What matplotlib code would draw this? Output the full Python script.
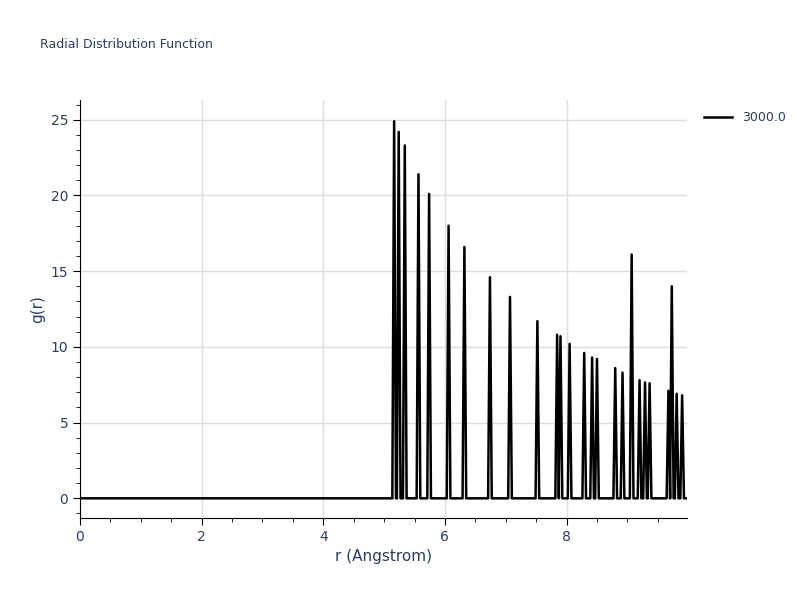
import matplotlib
matplotlib.use("Agg")
import matplotlib.pyplot as plt
from matplotlib.ticker import MultipleLocator

peak_r = [5.165, 5.24, 5.34, 5.565, 5.74, 6.06, 6.32, 6.74, 7.07, 7.52, 7.845, 7.90, 8.05,
          8.29, 8.42, 8.50, 8.80, 8.92, 9.07, 9.20, 9.29, 9.365, 9.675, 9.73, 9.81, 9.90]
peak_g = [24.9, 24.2, 23.3, 21.4, 20.1, 18.0, 16.6, 14.6, 13.3, 11.7, 10.8, 10.7, 10.2,
          9.6, 9.3, 9.2, 8.6, 8.3, 16.1, 7.8, 7.65, 7.6, 7.1, 14.0, 6.9, 6.8]
r_start, r_end = 0.0, 9.98
half_width = 0.03

r = [r_start]
g = [0.0]
for pr, pg in zip(peak_r, peak_g):
    r += [pr - half_width, pr, pr + half_width]
    g += [0.0, pg, 0.0]
r.append(r_end)
g.append(0.0)

fig = plt.figure(figsize=(8, 6), dpi=100)
ax = fig.add_axes([80/800, 1-518/600, 607/800, 418/600])
ax.plot(r, g, color="black", lw=1.8, label="3000.0")
ax.set_xlim(0, 9.98)
ax.set_ylim(-1.3, 26.3)
ax.xaxis.set_major_locator(MultipleLocator(2))
ax.xaxis.set_minor_locator(MultipleLocator(0.5))
ax.yaxis.set_major_locator(MultipleLocator(5))
ax.yaxis.set_minor_locator(MultipleLocator(1))
ax.grid(True, which="major", color="#dddddd", lw=1)
ax.set_axisbelow(True)
for s in ["top", "right"]:
    ax.spines[s].set_visible(False)
for s in ["left", "bottom"]:
    ax.spines[s].set_color("black")
tc = "#2a3f5f"
ax.tick_params(which="major", length=5, color="black", labelcolor=tc, labelsize=10)
ax.tick_params(which="minor", length=3, color="black")
ax.set_xlabel("r (Angstrom)", color=tc, fontsize=11)
ax.set_ylabel("g(r)", color=tc, fontsize=11)
fig.text(40/800, 1-45/600, "Radial Distribution Function", color=tc, fontsize=9, va="center")
ax.legend(loc="upper left", bbox_to_anchor=(1.01, 1.0), frameon=False, fontsize=9,
          labelcolor=tc, handlelength=2.2)
fig.savefig("out.png")
